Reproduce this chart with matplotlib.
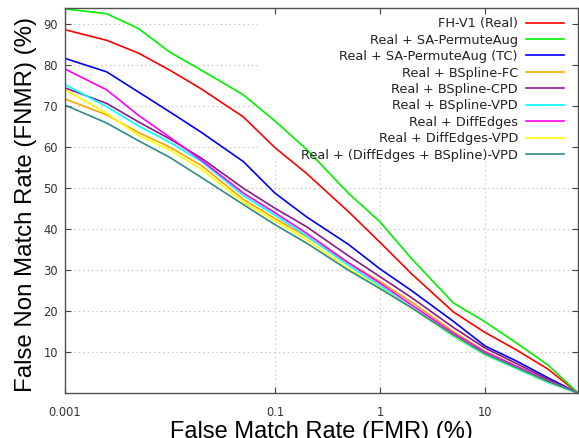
import numpy as np
import matplotlib
matplotlib.use("Agg")
from matplotlib import pyplot as plt

# FMR sample points (%), shared by all curves
fmr = [0.001, 0.0025, 0.005, 0.01, 0.02, 0.05, 0.1, 0.2, 0.5, 1, 2, 5, 10, 20, 40, 77]

# FNMR (%)
fh_real = [88.7, 86.1, 83.0, 78.8, 74.2, 67.4, 59.9, 53.6, 44.3, 36.8, 29.1, 19.8, 14.8, 10.5, 5.8, 0]
sa_permute = [93.8, 92.6, 89.0, 83.2, 78.8, 72.8, 66.4, 59.5, 48.8, 41.8, 32.8, 22.0, 17.4, 12.2, 6.8, 0]
sa_permute_tc = [81.7, 78.4, 73.5, 68.6, 63.6, 56.5, 48.8, 43.0, 36.3, 30.3, 25.0, 17.5, 11.5, 7.8, 3.7, 0]
bspline_fc = [71.8, 67.9, 63.6, 60.0, 55.5, 47.3, 42.6, 38.2, 31.8, 27.2, 22.2, 15.0, 10.2, 6.6, 3.0, 0]
bspline_cpd = [74.5, 70.7, 66.2, 62.0, 57.3, 50.0, 45.1, 40.6, 33.5, 28.4, 23.3, 16.0, 11.0, 7.2, 3.3, 0]
bspline_vpd = [75.3, 69.9, 65.2, 61.2, 56.5, 48.2, 43.4, 38.4, 31.2, 26.2, 20.9, 13.8, 9.3, 5.9, 2.5, 0]
diffedges = [79.1, 74.0, 67.8, 62.4, 56.8, 48.8, 44.0, 39.0, 31.8, 26.8, 21.5, 14.6, 10.0, 6.5, 2.9, 0]
diffedges_vpd = [74.0, 68.3, 62.9, 59.3, 54.6, 46.6, 42.0, 37.4, 30.4, 25.7, 20.8, 14.0, 9.5, 6.1, 2.7, 0]
combo_vpd = [70.3, 65.9, 61.6, 57.5, 52.6, 46.0, 41.1, 36.6, 30.0, 25.5, 20.8, 14.2, 9.6, 6.2, 2.8, 0]

labels = ["FH-V1 (Real)", "Real + SA-PermuteAug", "Real + SA-PermuteAug (TC)",
          "Real + BSpline-FC", "Real + BSpline-CPD", "Real + BSpline-VPD",
          "Real + DiffEdges", "Real + DiffEdges-VPD", "Real + (DiffEdges + BSpline)-VPD"]
series = [fh_real, sa_permute, sa_permute_tc, bspline_fc, bspline_cpd, bspline_vpd,
          diffedges, diffedges_vpd, combo_vpd]
colors = ["#ff0000", "#00f000", "#0000ff", "#ffa500", "#8b1a8b", "#00ffff",
          "#ff00ff", "#ffff00", "#2e8b8b"]

xticks = [0.001, 0.1, 1, 10]
xticklabels = ["0.001", "0.1", "1", "10"]
yticks = [10, 20, 30, 40, 50, 60, 70, 80, 90]

fig = plt.figure(figsize=(5.79, 4.38), dpi=100)
ax = fig.add_axes([65 / 579, 45 / 438, 513 / 579, 385 / 438])
ax.set_xscale("log")
ax.set_xlim(0.001, 77)
ax.set_ylim(0, 94)

# dotted grid, left out where the key sits (gnuplot style)
grid_kw = dict(color="#b8b8b8", linewidth=0.8, linestyle=(0, (1, 3)), zorder=0)
key_left, key_bottom = 0.069, 57
for y in yticks:
    x_end = key_left if y > key_bottom else 77
    ax.plot([0.001, x_end], [y, y], **grid_kw)
for x in xticks[1:]:
    ax.plot([x, x], [0, key_bottom], **grid_kw)

for vals, lab, col in zip(series, labels, colors):
    ax.plot(fmr, vals, color=col, linewidth=1.2, label=lab, zorder=2)

ax.set_xticks(xticks)
ax.set_xticklabels(xticklabels)
ax.xaxis.set_minor_locator(matplotlib.ticker.NullLocator())
ax.set_yticks(yticks)
ax.tick_params(which="both", direction="in", top=True, right=True, length=4,
               width=0.8, color="#404040", labelsize=8.3, labelcolor="#333333")
ax.tick_params(axis="x", pad=9)
ax.tick_params(axis="y", pad=5)
for s in ax.spines.values():
    s.set_color("#505050")
    s.set_linewidth(1.0)

ax.set_xlabel("False Match Rate (FMR) (%)", fontsize=17, family="Liberation Sans")
ax.xaxis.set_label_coords(0.5, -0.072)
ax.set_ylabel("False Non Match Rate (FNMR) (%)", fontsize=17.3, family="Liberation Sans")
ax.yaxis.set_label_coords(-0.055, 0.49)

leg = ax.legend(loc="upper right", bbox_to_anchor=(0.99, 1.0), frameon=False,
                markerfirst=False, fontsize=9.3, handlelength=2.9, handletextpad=0.65,
                labelspacing=0.27, borderpad=0.2)
for col in leg._legend_handle_box.get_children():
    col.align = "right"
for t in leg.get_texts():
    t.set_color("#222222")

fig.savefig("out.png", dpi=100)
